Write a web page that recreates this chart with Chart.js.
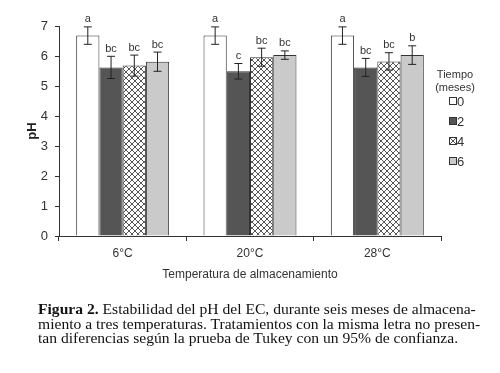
<!DOCTYPE html>
<html>
<head>
<meta charset="utf-8">
<script src="https://cdn.jsdelivr.net/npm/chart.js@4.4.0/dist/chart.umd.min.js"></script>
<style>
  html, body { margin: 0; padding: 0; background: #fff; }
  #wrap { position: relative; width: 500px; height: 373px; }
  #caption {
    position: absolute; left: 38px; top: 302px; width: 460px;
    font-family: "Liberation Serif", "Times New Roman", serif;
    font-size: 15.6px; line-height: 14.5px; color: #111; white-space: nowrap;
  }
</style>
</head>
<body>
<div id="wrap">
  <canvas id="phChart" width="500" height="373"></canvas>
  <div id="caption"><b>Figura 2.</b> Estabilidad del pH del EC, durante seis meses de almacena-<br>miento a tres temperaturas. Tratamientos con la misma letra no presen-<br>tan diferencias según la prueba de Tukey con un 95% de confianza.</div>
</div>
<script>
const categories = ['6°C', '20°C', '28°C'];
const months = ['0', '2', '4', '6'];
const phMonth0 = [6.68, 6.68, 6.68];
const phMonth2 = [5.62, 5.49, 5.62];
const phMonth4 = [5.68, 5.96, 5.82];
const phMonth6 = [5.81, 6.03, 6.03];
const errMonth0 = [0.29, 0.29, 0.29];
const errMonth2 = [0.37, 0.26, 0.30];
const errMonth4 = [0.35, 0.30, 0.29];
const errMonth6 = [0.32, 0.14, 0.31];
const letters0 = ['a', 'a', 'a'];
const letters2 = ['bc', 'c', 'bc'];
const letters4 = ['bc', 'bc', 'bc'];
const letters6 = ['bc', 'bc', 'b'];

const edge = '#333';

// crosshatch fill for month 4
function crossHatch() {
    const c = document.createElement('canvas');
    c.width = 6; c.height = 6;
    const g = c.getContext('2d');
    g.fillStyle = '#fff';
    g.fillRect(0, 0, 6, 6);
    g.strokeStyle = '#555';
    g.lineWidth = 1;
    g.beginPath();
    g.moveTo(0, 0); g.lineTo(6, 6);
    g.moveTo(6, 0); g.lineTo(0, 6);
    g.stroke();
    return g.createPattern(c, 'repeat');
}
const hatch = crossHatch();

const errors = [errMonth0, errMonth2, errMonth4, errMonth6];
const letters = [letters0, letters2, letters4, letters6];

const errorBars = {
    id: 'errorBars',
    afterDatasetsDraw(chart) {
        const ctx = chart.ctx;
        const y = chart.scales.y;
        ctx.save();
        chart.data.datasets.forEach((ds, i) => {
            chart.getDatasetMeta(i).data.forEach((bar, j) => {
                const v = ds.data[j], e = errors[i][j];
                const top = y.getPixelForValue(v + e);
                const bot = y.getPixelForValue(v - e);
                ctx.strokeStyle = '#222';
                ctx.lineWidth = 1;
                ctx.beginPath();
                ctx.moveTo(bar.x, top); ctx.lineTo(bar.x, bot);
                ctx.moveTo(bar.x - 4, top); ctx.lineTo(bar.x + 4, top);
                ctx.moveTo(bar.x - 4, bot); ctx.lineTo(bar.x + 4, bot);
                ctx.stroke();
                ctx.fillStyle = '#333';
                ctx.font = '11px "Liberation Sans", Arial, sans-serif';
                ctx.textAlign = 'center';
                ctx.textBaseline = 'bottom';
                ctx.fillText(letters[i][j], bar.x, top - 2);
            });
        });
        ctx.restore();
    }
};

const sideLegend = {
    id: 'sideLegend',
    afterDraw(chart) {
        const ctx = chart.ctx;
        ctx.save();
        ctx.fillStyle = '#333';
        ctx.font = '11px "Liberation Sans", Arial, sans-serif';
        ctx.textAlign = 'center';
        ctx.textBaseline = 'middle';
        ctx.fillText('Tiempo', 455, 75);
        ctx.fillText('(meses)', 455, 88);
        ctx.font = '13px "Liberation Sans", Arial, sans-serif';
        ctx.textAlign = 'left';
        chart.data.datasets.forEach((ds, i) => {
            const cy = 101 + i * 20;
            ctx.fillStyle = ds.backgroundColor;
            ctx.fillRect(449, cy - 3.5, 7, 7);
            ctx.strokeStyle = edge;
            ctx.lineWidth = 1;
            ctx.strokeRect(449.5, cy - 3.5, 7, 7);
            ctx.fillStyle = '#333';
            ctx.fillText(ds.label, 457, cy + 1);
        });
        ctx.restore();
    }
};

new Chart(document.getElementById('phChart'), {
    type: 'bar',
    data: {
        labels: categories,
        datasets: [
            { label: months[0], data: phMonth0, backgroundColor: '#ffffff' },
            { label: months[1], data: phMonth2, backgroundColor: '#555555' },
            { label: months[2], data: phMonth4, backgroundColor: hatch },
            { label: months[3], data: phMonth6, backgroundColor: '#cacaca' }
        ]
    },
    options: {
        responsive: false,
        animation: false,
        datasets: {
            bar: {
                borderColor: edge,
                borderWidth: 1,
                categoryPercentage: 0.73,
                barPercentage: 1
            }
        },
        layout: { padding: { top: 26, right: 59, bottom: 87, left: 0 } },
        plugins: {
            legend: { display: false },
            tooltip: { enabled: false }
        },
        scales: {
            x: {
                afterFit: (s) => { s.height = 50; },
                grid: { drawOnChartArea: false, tickLength: 5, color: edge },
                border: { color: edge },
                ticks: { color: '#333', padding: 5, font: { family: '"Liberation Sans", Arial', size: 12 } },
                title: {
                    display: true, text: 'Temperatura de almacenamiento', color: '#333',
                    padding: { top: 4, bottom: 4 },
                    font: { family: '"Liberation Sans", Arial', size: 12 }
                }
            },
            y: {
                min: 0, max: 7,
                afterFit: (s) => { s.width = 59; },
                grid: { drawOnChartArea: false, tickLength: 4, color: edge },
                border: { color: edge },
                ticks: { stepSize: 1, color: '#333', padding: 7, font: { family: '"Liberation Sans", Arial', size: 13 } },
                title: {
                    display: true, text: 'pH', color: '#222',
                    padding: { top: 25, bottom: 0 },
                    font: { family: '"Liberation Sans", Arial', size: 13, weight: 'bold' }
                }
            }
        }
    },
    plugins: [errorBars, sideLegend]
});
</script>
</body>
</html>
